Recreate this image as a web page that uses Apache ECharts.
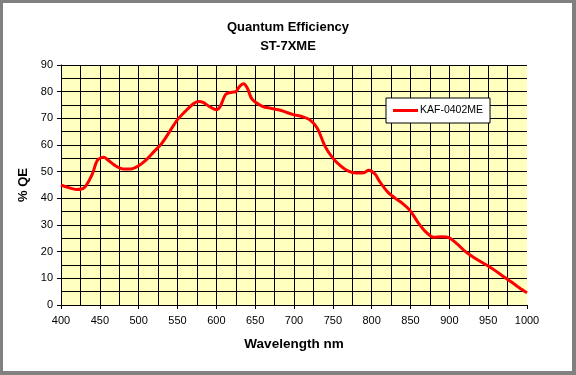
<!DOCTYPE html>
<html>
<head>
<meta charset="utf-8">
<script src="https://cdn.jsdelivr.net/npm/echarts@6/dist/echarts.min.js"></script>
<style>
  html, body { margin: 0; padding: 0; background: #fff; }
  #chart { width: 576px; height: 375px; }
</style>
</head>
<body>
<div id="chart"></div>
<script>
// sensor QE curve
const wavelength = [400, 410, 420, 430, 440, 447, 455, 460, 470, 480, 490, 500, 510, 520, 530, 540, 550, 560, 570, 577, 583, 590, 600, 605, 612, 620, 625, 630, 635, 640, 645, 650, 660, 670, 680, 690, 700, 710, 720, 730, 740, 750, 760, 770, 780, 790, 796, 800, 805, 810, 820, 830, 840, 850, 860, 870, 880, 890, 900, 910, 920, 930, 940, 950, 960, 970, 980, 990, 1000];
const qe = [45, 44, 43.3, 44, 48.9, 54.3, 55.4, 54.5, 52.2, 51, 51, 52.2, 54.5, 57.6, 60.7, 65.1, 69.5, 72.6, 75.4, 76.3, 76, 74.6, 73.2, 74.4, 79, 79.8, 80, 82, 83, 81.3, 77.6, 76.1, 74.4, 73.8, 73.2, 72.3, 71.3, 70.7, 69.5, 66.3, 59.5, 55.1, 52.2, 50.2, 49.5, 49.6, 50.5, 50.1, 48.9, 46.4, 42.6, 40.1, 38, 35.2, 30.8, 27.3, 25.4, 25.6, 25.2, 22.9, 20.2, 18.1, 16.3, 14.6, 12.7, 10.6, 8.6, 6.5, 4.6];
const seriesName = 'KAF-0402ME';
const xTicks = [400, 1000, 50];
const yTicks = [0, 90, 10];

const font = '"Liberation Sans", Arial, sans-serif';
const chart = echarts.init(document.getElementById('chart'));

const option = {
  animation: false,
  backgroundColor: '#fff',
  title: {
    text: 'Quantum Efficiency\nST-7XME',
    left: 'center',
    top: 13,
    textStyle: { fontFamily: font, fontSize: 13, fontWeight: 'bold', color: '#000', lineHeight: 19 }
  },
  legend: {
    data: [seriesName],
    left: 386,
    top: 98,
    padding: [7, 7, 7, 7],
    backgroundColor: '#fff',
    borderColor: '#000',
    borderWidth: 1,
    borderRadius: 0,
    itemWidth: 25,
    itemHeight: 3,
    itemGap: 0,
    icon: 'rect',
    textStyle: { fontFamily: font, fontSize: 10.5, color: '#000', padding: [0, 0, 0, -3] }
  },
  grid: {
    left: 61, right: 49, top: 65, bottom: 70,
    show: true,
    backgroundColor: '#ffffc0',
    borderWidth: 0
  },
  xAxis: {
    type: 'value',
    min: xTicks[0], max: xTicks[1], interval: xTicks[2],
    name: 'Wavelength nm',
    nameLocation: 'middle',
    nameGap: 32,
    nameTextStyle: { fontFamily: font, fontSize: 13.5, fontWeight: 'bold', color: '#000' },
    axisLine: { show: true, lineStyle: { color: '#000', width: 1 } },
    axisTick: { show: true, length: 4, lineStyle: { color: '#000' } },
    axisLabel: { fontFamily: font, fontSize: 11, color: '#000', margin: 10, formatter: v => String(v) },
    splitLine: { show: true, showMaxLine: false, lineStyle: { color: '#000', width: 1 } },
    minorTick: { show: false, splitNumber: 2 },
    minorSplitLine: { show: true, lineStyle: { color: '#000', width: 1 } }
  },
  yAxis: {
    type: 'value',
    min: yTicks[0], max: yTicks[1], interval: yTicks[2],
    name: '% QE',
    nameLocation: 'middle',
    nameGap: 27,
    nameTextStyle: { fontFamily: font, fontSize: 13, fontWeight: 'bold', color: '#000' },
    axisLine: { show: true, lineStyle: { color: '#000', width: 1 } },
    axisTick: { show: true, length: 4, lineStyle: { color: '#000' } },
    axisLabel: { fontFamily: font, fontSize: 11, color: '#000', margin: 8 },
    splitLine: { show: true, lineStyle: { color: '#000', width: 1 } },
    minorTick: { show: false, splitNumber: 2 },
    minorSplitLine: { show: true, lineStyle: { color: '#000', width: 1 } }
  },
  series: [{
    name: seriesName,
    type: 'line',
    data: wavelength.map((w, i) => [w, qe[i]]),
    smooth: 0.3,
    showSymbol: false,
    lineStyle: { color: '#ff0000', width: 3 },
    itemStyle: { color: '#ff0000' }
  }],
  graphic: [
    { type: 'rect', shape: { x: 0, y: 0, width: 576, height: 3 }, style: { fill: '#808080' } },
    { type: 'rect', shape: { x: 0, y: 0, width: 3, height: 375 }, style: { fill: '#808080' } },
    { type: 'rect', shape: { x: 572, y: 0, width: 4, height: 375 }, style: { fill: '#808080' } },
    { type: 'rect', shape: { x: 0, y: 371, width: 576, height: 4 }, style: { fill: '#808080' } }
  ]
};

chart.setOption(option);
</script>
</body>
</html>
